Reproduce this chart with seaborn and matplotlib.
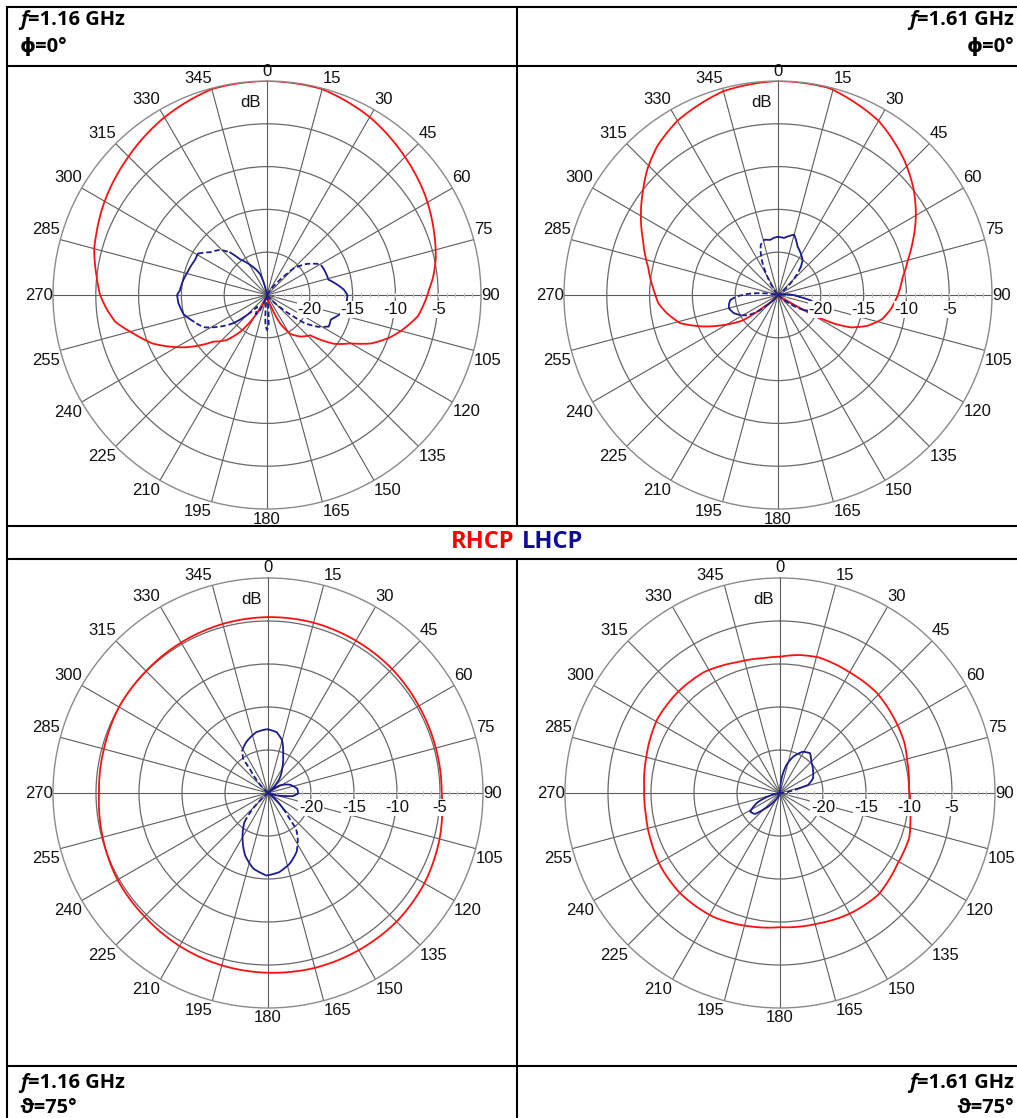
import numpy as np
import matplotlib.pyplot as plt
import seaborn as sns

# ---- pattern data: angle (deg, clockwise from top) and gain (dB) ----
# f = 1.16 GHz, phi = 0
red1_theta = [0, 15, 30, 45, 57, 70, 78, 84, 88, 93, 98, 105, 109, 115, 120, 126, 131, 133, 141, 149,
              155, 160, 170, 180, 190, 200, 209, 216, 222, 229, 237, 247, 254, 260, 265, 270, 276, 285, 290, 300,
              314, 329, 345, 360]
red1_db = [0.0, -0.1, -1.0, -2.2, -3.1, -4.2, -4.85, -5.5, -6.05, -6.6, -7.2, -8.8, -9.8, -11.6, -13.7, -15.3, -17.3, -18.1, -18.75, -19.7,
           -21.3, -23.5, -25, -25, -25, -24.5, -22.5, -19.7, -17.9, -16.7, -13.8, -10.5, -8.75, -7.0, -6.2, -5.5, -5.0, -4.1, -3.8, -3.1,
           -2.2, -1.1, -0.1, 0.0]
blue1_theta = [0, 30, 38, 42, 45, 52, 60, 66, 76, 86, 90, 98, 104, 111, 117, 122, 127, 129, 133, 140,
               172, 177, 180, 183, 188, 200, 205, 210, 215, 220, 225, 230, 236, 243, 250, 257, 265, 270, 273, 281,
               285, 296, 301, 307, 314, 319, 323, 331, 342, 350, 360]
blue1_db = [-25, -25, -23.5, -22.1, -20.6, -19.1, -17.8, -17.7, -17.6, -16.0, -15.6, -15.7, -16.1, -17.0, -16.9, -18.0, -19.6, -21.0, -22.8, -25,
            -25, -21.5, -20.9, -21.5, -25, -25, -22.8, -22.4, -23.0, -23.2, -21.7, -19.9, -18.4, -16.7, -15.9, -15.0, -14.6, -14.5, -14.8, -15.1,
            -15.3, -15.65, -15.6, -16.7, -17.4, -18.4, -19.8, -21.0, -22.5, -25, -25]

# f = 1.61 GHz, phi = 0
red2_theta = [0, 14, 30, 43, 52, 60, 68, 75, 82, 90, 97, 103, 109, 114, 117, 119, 121, 125, 140, 180,
              220, 230, 234, 241, 247, 254, 261, 266, 272, 282, 292, 300, 307, 314, 321, 330, 345, 360]
red2_db = [0, -0.1, -1.5, -3.4, -4.9, -6.4, -8.0, -9.3, -10.3, -11.0, -11.7, -12.5, -13.95, -15.7, -17.65, -19.7, -22.4, -24, -25, -25,
           -25, -22.9, -20.0, -17.8, -15.6, -13.1, -11.8, -11.0, -10.5, -9.5, -8.0, -6.5, -5.2, -3.8, -2.6, -1.5, -0.35, 0]
blue2_theta = [0, 6, 15, 22, 35, 39, 42, 47, 55, 80, 85, 95, 100, 105, 110, 115, 120, 125, 132, 220,
               226, 231, 236, 242, 248, 255, 260, 264, 268, 273, 277, 282, 322, 326, 330, 334, 338, 341, 346, 352,
               356, 360]
blue2_db = [-18.2, -18.3, -17.7, -18.9, -20.0, -20.75, -21.6, -23.0, -25, -25, -24, -22.5, -21.0, -20.4, -20.3, -20.6, -21.5, -22.8, -25, -25,
            -23.5, -21.9, -20.8, -20.0, -19.4, -19.05, -19.2, -19.4, -20.2, -21.8, -23.4, -25, -25, -23.8, -22.5, -20.9, -19.6, -18.8, -18.35, -18.5,
            -18.3, -18.2]

# f = 1.16 GHz, theta = 75
red3_theta = list(range(0, 361, 15))
red3_db = [-4.55, -4.5, -4.55, -4.6, -4.75, -4.8, -4.8, -4.35, -4.0, -3.85, -3.9, -3.95, -4.1,
           -4.25, -4.45, -4.7, -4.8, -5.1, -5.35, -5.25, -5.0, -4.95, -4.8, -4.65, -4.55]
blue3_theta = [0, 8, 15, 22, 30, 39, 48, 57, 69, 82, 91, 97, 101, 110, 125, 131, 136, 140, 142, 147,
               154, 163, 172, 181, 191, 200, 209, 219, 224, 230, 300, 312, 318, 323, 324, 329, 337, 349, 358, 360]
blue3_db = [-17.6, -17.85, -18.65, -20.3, -21.7, -22.9, -25, -23.4, -22.3, -21.55, -21.5, -22.1, -23.2, -25, -25, -23.7, -22.5, -21.1, -19.7, -18.65,
            -17.4, -16.4, -15.7, -15.4, -16.05, -17.25, -18.9, -20.65, -22.5, -25, -25, -25, -23.3, -21.5, -20.1, -19.2, -18.55, -17.8, -17.6, -17.6]

# f = 1.61 GHz, theta = 75
red4_theta = [0, 8, 16, 30, 44, 55, 68, 76, 88, 101, 109, 121, 136, 150, 164, 180, 193, 208, 225, 238,
              250, 261, 272, 285, 301, 315, 328, 342, 353, 360]
red4_db = [-9.15, -8.8, -8.6, -8.8, -8.8, -9.1, -9.4, -9.75, -10.0, -9.55, -9.1, -9.05, -8.55, -8.8, -9.2, -9.4, -9.1, -8.65, -8.55, -8.7,
           -9.0, -9.2, -9.2, -8.9, -8.35, -8.3, -8.4, -9.0, -9.2, -9.15]
blue4_theta = [0, 6, 13, 20, 29, 37, 45, 57, 66, 74, 76, 80, 90, 200, 215, 225, 230, 238, 247, 254, 262, 270, 360]
blue4_db = [-25, -23.3, -21.65, -20.5, -19.5, -19.2, -19.85, -20.4, -20.8, -21.6, -22.6, -23.8, -25, -25, -23.8, -22.3, -21.2, -20.9, -22.1, -23.6, -25, -25, -25]

angle_ticks = list(range(0, 360, 15))
ring_ticks = [-20, -15, -10, -5]
freq_labels = ["1.16 GHz", "1.61 GHz", "1.16 GHz", "1.61 GHz"]
cut_labels = ["\u03d5=0\u00b0", "\u03d5=0\u00b0", "\u03d1=75\u00b0", "\u03d1=75\u00b0"]

# ---- style ----
sns.set_style("white")
plt.rcParams['font.family'] = ['Liberation Sans', 'DejaVu Sans']

W, H = 1017, 1118
fig = plt.figure(figsize=(W / 100, H / 100), dpi=100)
fig.patch.set_facecolor('white')

RED = '#ff1010'
BLUE = '#1c1c8e'
RMIN, RMAX = -25, 0


def draw_curve(ax, theta, gain, color, dash_ranges):
    th = np.asarray(theta, float)
    g = np.asarray(gain, float)
    dashed = np.zeros(len(th), bool)
    for lo, hi in dash_ranges:
        dashed |= (th >= lo) & (th <= hi)
    start = 0
    for i in range(1, len(th) + 1):
        if i == len(th) or dashed[i] != dashed[start]:
            seg = slice(start, min(i + 1, len(th)))
            sns.lineplot(x=np.radians(th[seg]), y=g[seg], ax=ax, color=color, lw=1.3,
                         linestyle=(0, (3, 1.6)) if dashed[start] else '-',
                         sort=False, estimator=None)
            start = i


def polar_panel(cx, cy, rad, curves):
    ax = fig.add_axes([(cx - rad) / W, (H - cy - rad) / H, 2 * rad / W, 2 * rad / H], projection='polar')
    ax.set_theta_zero_location('N')
    ax.set_theta_direction(-1)
    ax.set_facecolor('none')

    for theta, gain, color, dash in curves:
        draw_curve(ax, theta, gain, color, dash)
    # let the polar transform draw the segments as arcs/spirals
    for ln in ax.lines:
        ln.get_path()._interpolation_steps = 24

    ax.set_ylim(RMIN, RMAX)
    ax.set_xticks(np.radians(angle_ticks))
    ax.set_xticklabels([])
    ax.set_xticks(np.radians(np.arange(0, 360, 5)), minor=True)
    ax.set_yticks(ring_ticks)
    ax.set_yticklabels([])
    ax.tick_params(axis='x', which='major', length=0)
    ax.tick_params(axis='x', which='minor', length=3, direction='in', color='#b8b8b8', width=0.8)
    ax.xaxis.grid(True, color='#5c5c5c', lw=0.8)
    ax.yaxis.grid(True, color='#686868', lw=0.9)
    ax.spines['polar'].set_color('#8a8a8a')
    ax.spines['polar'].set_linewidth(1.0)
    ax.set_xlabel('')
    ax.set_ylabel('')
    ax.set_axisbelow(True)

    # 1 dB ticks along the 90 deg axis
    for r in range(-24, 0):
        d = np.arctan(2.0 / ((r - RMIN) * rad / (RMAX - RMIN)))
        ax.plot([np.pi / 2 - d, np.pi / 2 + d], [r, r], color='#c4c4c4', lw=0.8, zorder=1)

    # angle labels
    for a in angle_ticks:
        t = np.radians(a)
        s, c = np.sin(t), np.cos(t)
        ha = 'left' if s > 0.01 else ('right' if s < -0.01 else 'center')
        va = 'bottom' if c > 0.01 else ('top' if c < -0.01 else 'center')
        dy = 2.5 if c > 0.01 else (-2.5 if c < -0.01 else 0)
        ax.annotate(str(a), xy=(t, RMAX), xytext=(0, dy), textcoords='offset pixels',
                    ha=ha, va=va, fontsize=12, color='#111111', annotation_clip=False)

    # ring labels
    for r in ring_ticks:
        ax.annotate(str(r), xy=(np.pi / 2, r), xytext=(0, -7), textcoords='offset pixels',
                    ha='center', va='top', fontsize=12, color='#111111', annotation_clip=False,
                    bbox=dict(boxstyle='square,pad=0.05', fc='white', ec='none'))
    ax.text(np.radians(-5), -2.45, 'dB', ha='center', va='center', fontsize=12, color='#111111')
    return ax


polar_panel(267, 295, 214, [(red1_theta, red1_db, RED, []),
                            (blue1_theta, blue1_db, BLUE,
                             [(15, 62), (116, 135), (172, 190), (200, 222), (228, 244), (300, 316)])])
polar_panel(778, 295, 214, [(red2_theta, red2_db, RED, []),
                            (blue2_theta, blue2_db, BLUE,
                             [(36, 50), (118, 130), (225, 238), (262, 285), (322, 342)])])
polar_panel(268, 793, 215, [(red3_theta, red3_db, RED, []),
                            (blue3_theta, blue3_db, BLUE, [(132, 150), (215, 228), (312, 328)])])
polar_panel(780, 793, 215, [(red4_theta, red4_db, RED, []),
                            (blue4_theta, blue4_db, BLUE, [(76, 84)])])

# ---- table frame ----
def hline(y, x0=7, x1=1017):
    fig.add_artist(plt.Line2D([x0 / W, x1 / W], [1 - y / H, 1 - y / H], color='black', lw=1.5,
                              transform=fig.transFigure))


def vline(x, y0, y1):
    fig.add_artist(plt.Line2D([x / W, x / W], [1 - y0 / H, 1 - y1 / H], color='black', lw=1.5,
                              transform=fig.transFigure))


for y in [7, 66, 526, 559, 1066]:
    hline(y)
vline(7, 7, 1118)
vline(517, 7, 526)
vline(517, 559, 1118)

# ---- cell headers ----
renderer = fig.canvas.get_renderer()
HFONT = dict(family=['Open Sans', 'DejaVu Sans'], weight='bold', fontsize=14.5, color='black')


def header(x, y1, y2, freq, cut, align):
    if align == 'left':
        t = fig.text(x / W, 1 - y1 / H, 'f', style='italic', ha='left', va='baseline', **HFONT)
        bb = t.get_window_extent(renderer)
        fig.text(bb.x1 / W, 1 - y1 / H, '=' + freq, ha='left', va='baseline', **HFONT)
        fig.text(x / W, 1 - y2 / H, cut, ha='left', va='baseline', **HFONT)
    else:
        t = fig.text(x / W, 1 - y1 / H, '=' + freq, ha='right', va='baseline', **HFONT)
        bb = t.get_window_extent(renderer)
        fig.text(bb.x0 / W, 1 - y1 / H, 'f', style='italic', ha='right', va='baseline', **HFONT)
        fig.text(x / W, 1 - y2 / H, cut, ha='right', va='baseline', **HFONT)


header(20, 25, 52, freq_labels[0], cut_labels[0], 'left')
header(1014, 25, 52, freq_labels[1], cut_labels[1], 'right')
header(20, 1088, 1113, freq_labels[2], cut_labels[2], 'left')
header(1014, 1088, 1113, freq_labels[3], cut_labels[3], 'right')

LFONT = dict(family=['Open Sans', 'DejaVu Sans'], weight='bold', fontsize=17, va='center')
fig.text(514 / W, 1 - 542 / H, 'RHCP', ha='right', color='#ff0000', **LFONT)
fig.text(522 / W, 1 - 542 / H, 'LHCP', ha='left', color='#0c0c96', **LFONT)

fig.savefig('out.png', dpi=100, facecolor='white')
